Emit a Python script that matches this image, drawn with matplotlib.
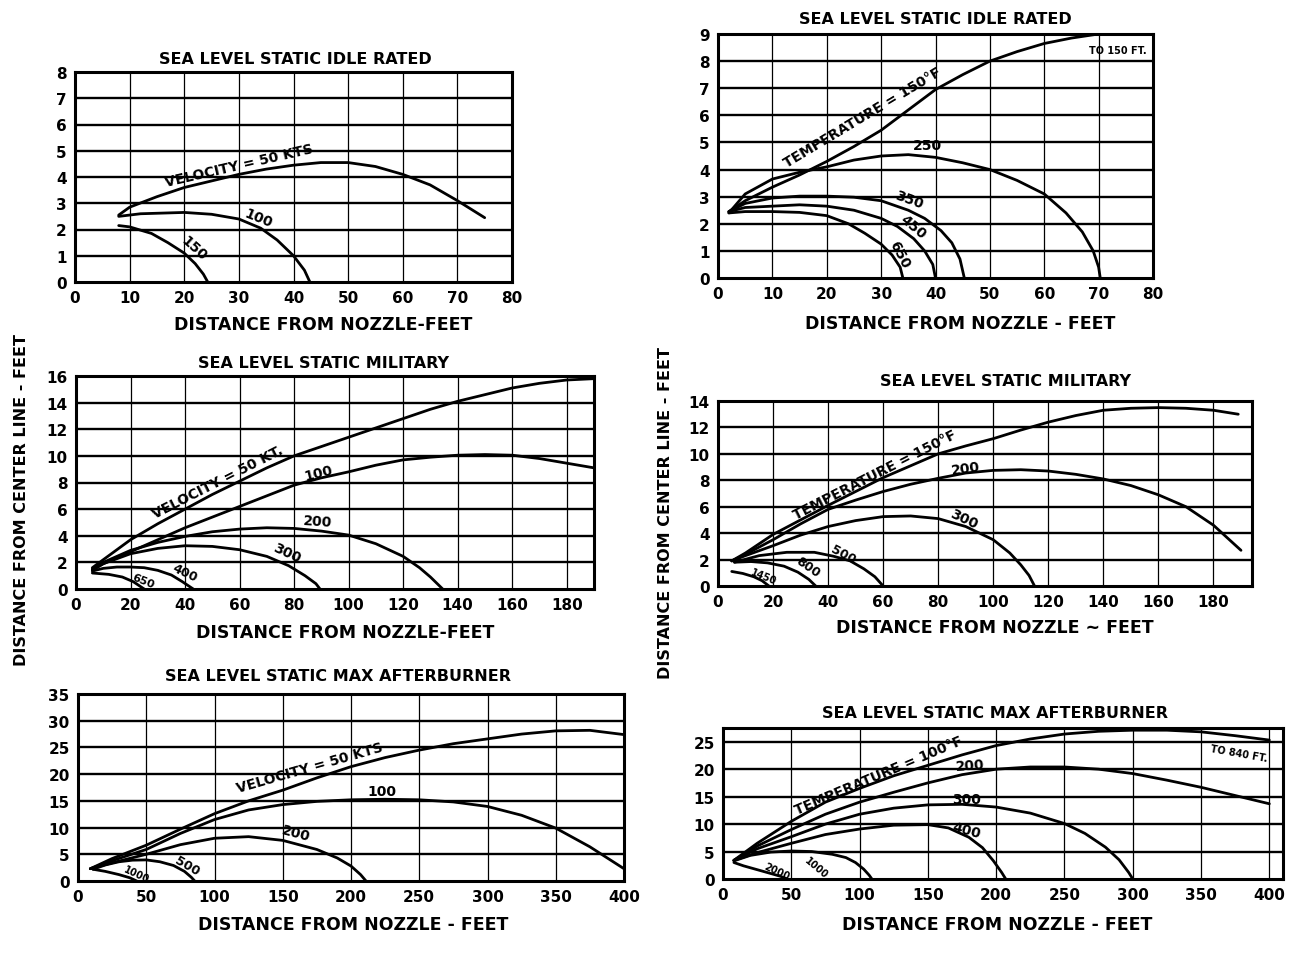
import matplotlib
matplotlib.use('Agg')
import matplotlib.pyplot as plt

plt.rcParams['font.family'] = ['Liberation Sans Narrow', 'DejaVu Sans']
plt.rcParams['font.weight'] = 'bold'

W, H = 1293, 954

#-------------------------------------------------------------------------------
# idle rated - velocity (top left)
idle_v50_x = [8, 10, 15, 20, 25, 30, 35, 40, 45, 50, 55, 60, 65, 70, 75]
idle_v50_y = [2.55, 2.85, 3.25, 3.6, 3.85, 4.1, 4.3, 4.45, 4.55, 4.55, 4.4, 4.1, 3.7, 3.1, 2.45]
idle_v100_x = [8, 12, 20, 25, 30, 34, 37, 40, 42, 43]
idle_v100_y = [2.5, 2.6, 2.65, 2.58, 2.4, 2.05, 1.6, 1.0, 0.45, 0]
idle_v150_x = [8, 10, 14, 17, 20, 22, 23.5, 24.3]
idle_v150_y = [2.15, 2.1, 1.85, 1.5, 1.1, 0.7, 0.3, 0]

# idle rated - temperature (top right)
idle_t150_x = [2, 5, 10, 15, 20, 25, 30, 35, 40, 45, 50, 55, 60, 65, 70]
idle_t150_y = [2.45, 2.85, 3.35, 3.8, 4.3, 4.85, 5.45, 6.2, 6.95, 7.5, 8.0, 8.35, 8.65, 8.85, 9.0]
idle_t250_x = [2, 5, 10, 15, 20, 25, 30, 35, 40, 45, 50, 55, 60, 64, 67, 69, 70, 70.3]
idle_t250_y = [2.4, 3.1, 3.65, 3.9, 4.1, 4.35, 4.5, 4.55, 4.45, 4.25, 4.0, 3.6, 3.1, 2.4, 1.7, 1.0, 0.4, 0]
idle_t350_x = [2, 5, 10, 15, 20, 25, 30, 35, 38, 41, 43, 44.5, 45.3]
idle_t350_y = [2.45, 2.75, 2.95, 3.02, 3.02, 2.98, 2.85, 2.5, 2.2, 1.75, 1.3, 0.7, 0]
idle_t450_x = [2, 5, 10, 15, 20, 25, 30, 33, 36, 38, 39.5, 40]
idle_t450_y = [2.45, 2.6, 2.65, 2.7, 2.65, 2.5, 2.2, 1.9, 1.45, 1.0, 0.5, 0]
idle_t650_x = [2, 5, 10, 15, 20, 24, 27, 30, 32, 33.5, 34]
idle_t650_y = [2.4, 2.45, 2.45, 2.42, 2.3, 2.0, 1.65, 1.25, 0.85, 0.4, 0]

# military - velocity (middle left)
mil_v50_x = [6, 10, 20, 30, 40, 50, 60, 70, 80, 90, 100, 110, 120, 130, 140, 150, 160, 170, 180, 190]
mil_v50_y = [1.6, 2.2, 3.7, 4.9, 6.0, 7.1, 8.1, 9.1, 10.0, 10.7, 11.4, 12.1, 12.8, 13.5, 14.1, 14.6, 15.1, 15.45, 15.7, 15.8]
mil_v100_x = [6, 10, 20, 30, 40, 50, 60, 70, 80, 90, 100, 110, 120, 130, 140, 150, 160, 170, 180, 190]
mil_v100_y = [1.45, 1.9, 2.8, 3.7, 4.6, 5.4, 6.2, 7.0, 7.8, 8.35, 8.8, 9.3, 9.7, 9.9, 10.05, 10.1, 10.05, 9.8, 9.45, 9.1]
mil_v200_x = [6, 10, 20, 30, 40, 50, 60, 70, 80, 90, 100, 110, 120, 126, 130, 133, 134.5]
mil_v200_y = [1.5, 2.0, 2.9, 3.5, 3.95, 4.3, 4.5, 4.6, 4.55, 4.35, 4.05, 3.4, 2.45, 1.6, 0.9, 0.3, 0]
mil_v300_x = [6, 10, 20, 30, 40, 50, 60, 70, 78, 84, 88, 89.5]
mil_v300_y = [1.4, 1.9, 2.65, 3.05, 3.25, 3.2, 2.95, 2.45, 1.75, 1.0, 0.4, 0]
mil_v400_x = [6, 10, 15, 20, 25, 30, 35, 39, 43]
mil_v400_y = [1.35, 1.55, 1.65, 1.65, 1.6, 1.4, 1.05, 0.55, 0]
mil_v650_x = [6, 12, 17, 21, 25]
mil_v650_y = [1.2, 1.1, 0.9, 0.55, 0]

# military - temperature (middle right)
mil_t150_x = [5, 10, 20, 30, 40, 50, 60, 70, 80, 90, 100, 110, 120, 130, 140, 150, 160, 170, 180, 189]
mil_t150_y = [1.9, 2.5, 3.9, 5.0, 6.1, 7.15, 8.2, 9.1, 10.0, 10.6, 11.15, 11.8, 12.4, 12.9, 13.3, 13.45, 13.5, 13.45, 13.3, 13.0]
mil_t200_x = [5, 10, 20, 30, 40, 50, 60, 70, 80, 90, 100, 110, 120, 130, 140, 150, 160, 170, 180, 190]
mil_t200_y = [1.9, 2.4, 3.5, 4.7, 5.8, 6.5, 7.15, 7.7, 8.15, 8.55, 8.75, 8.8, 8.7, 8.45, 8.1, 7.6, 6.9, 6.0, 4.6, 2.7]
mil_t300_x = [5, 10, 20, 30, 40, 50, 60, 70, 80, 90, 100, 106, 110, 113, 115]
mil_t300_y = [1.9, 2.3, 3.05, 3.85, 4.5, 4.95, 5.25, 5.3, 5.1, 4.5, 3.5, 2.5, 1.6, 0.8, 0]
mil_t500_x = [6, 15, 25, 35, 42, 48, 53, 57, 60]
mil_t500_y = [1.8, 2.3, 2.55, 2.55, 2.25, 1.9, 1.3, 0.7, 0]
mil_t800_x = [6, 12, 18, 24, 29, 33, 35.5]
mil_t800_y = [1.8, 1.85, 1.75, 1.5, 1.05, 0.5, 0]
mil_t1450_x = [5, 9, 13, 16, 18.5]
mil_t1450_y = [1.1, 0.95, 0.7, 0.4, 0]

# max afterburner - velocity (bottom left)
ab_v50_x = [9, 25, 50, 75, 100, 125, 150, 175, 200, 225, 250, 275, 300, 325, 350, 375, 400]
ab_v50_y = [2.3, 4.2, 6.7, 9.7, 12.6, 15.0, 17.0, 19.3, 21.4, 23.1, 24.5, 25.7, 26.6, 27.5, 28.1, 28.2, 27.4]
ab_v100_x = [9, 25, 50, 75, 100, 125, 150, 175, 200, 225, 250, 275, 300, 325, 350, 375, 400]
ab_v100_y = [2.3, 3.8, 5.9, 8.9, 11.5, 13.3, 14.3, 14.9, 15.2, 15.3, 15.2, 14.8, 13.95, 12.3, 9.9, 6.4, 2.3]
ab_v200_x = [9, 25, 50, 75, 100, 125, 150, 175, 190, 200, 207, 211]
ab_v200_y = [2.3, 3.4, 5.0, 6.8, 8.0, 8.3, 7.6, 5.9, 4.3, 2.8, 1.2, 0]
ab_v500_x = [11, 20, 30, 40, 50, 60, 70, 78, 83, 85.5]
ab_v500_y = [2.2, 3.0, 3.6, 3.9, 3.95, 3.6, 2.9, 1.8, 0.7, 0]
ab_v1000_x = [11, 20, 30, 38, 43]
ab_v1000_y = [2.2, 1.8, 1.2, 0.6, 0]

# max afterburner - temperature (bottom right)
ab_t100_x = [8, 25, 50, 75, 100, 125, 150, 175, 200, 225, 250, 275, 300, 325, 350, 375, 400]
ab_t100_y = [3.4, 6.5, 10.5, 14.0, 16.5, 18.8, 20.7, 22.6, 24.3, 25.5, 26.4, 26.9, 27.1, 27.1, 26.8, 26.1, 25.3]
ab_t200_x = [8, 25, 50, 75, 100, 125, 150, 175, 200, 225, 250, 275, 300, 325, 350, 375, 400]
ab_t200_y = [3.4, 6.0, 9.0, 11.8, 14.0, 15.8, 17.5, 19.0, 20.0, 20.4, 20.4, 20.0, 19.2, 18.0, 16.7, 15.2, 13.7]
ab_t300_x = [8, 25, 50, 75, 100, 125, 150, 175, 200, 225, 250, 265, 280, 290, 297, 300]
ab_t300_y = [3.4, 5.5, 7.7, 10.0, 11.8, 12.9, 13.5, 13.6, 13.1, 12.0, 10.1, 8.3, 5.8, 3.5, 1.2, 0]
ab_t400_x = [8, 25, 50, 75, 100, 125, 150, 165, 180, 190, 198, 204, 207]
ab_t400_y = [3.4, 4.8, 6.5, 8.1, 9.1, 9.8, 9.9, 9.3, 7.6, 5.7, 3.3, 1.2, 0]
ab_t1000_x = [8, 20, 35, 50, 65, 80, 90, 97, 103, 107, 109]
ab_t1000_y = [3.3, 4.3, 4.9, 5.1, 5.0, 4.5, 3.9, 3.0, 1.8, 0.7, 0]
ab_t2000_x = [8, 15, 25, 35, 42, 47]
ab_t2000_y = [3.0, 2.4, 1.7, 1.0, 0.5, 0]

#-------------------------------------------------------------------------------
def rect(l, t, r, b):
    return [l / W, 1 - b / H, (r - l) / W, (b - t) / H]

def ftext(fig, x, y, s, size=12.5, rot=0):
    fig.text(x / W, 1 - y / H, s, ha='center', va='center', fontsize=size,
             fontweight='bold', rotation=rot)

def set_plot(ax, xlim, ylim, xticks, yticks):
    ax.set_xlim(xlim)
    ax.set_ylim(ylim)
    ax.set_xticks(xticks)
    ax.set_yticks(yticks)
    for y in yticks[1:]:
        ax.axhline(y, color='black', lw=1.7, zorder=1)
    for x in xticks[1:]:
        if x < xlim[1]:
            ax.axvline(x, color='black', lw=0.9, zorder=1)
    for sp in ax.spines.values():
        sp.set_linewidth(2.2)
    ax.tick_params(length=0, pad=6, labelsize=11)
    for lab in ax.get_xticklabels() + ax.get_yticklabels():
        lab.set_fontweight('bold')

def curves(ax, pairs):
    for xs, ys in pairs:
        ax.plot(xs, ys, color='black', lw=2.0, solid_capstyle='round', zorder=3)

def labels(ax, items):
    for x, y, s, ang, size in items:
        ax.text(x, y, s, rotation=ang, ha='center', va='center', fontsize=size,
                fontweight='bold', rotation_mode='anchor', zorder=4)

fig = plt.figure(figsize=(W / 100, H / 100), dpi=100)

# top left
ax = fig.add_axes(rect(75, 73, 512, 283))
set_plot(ax, (0, 80), (0, 8), list(range(0, 81, 10)), list(range(0, 9)))
curves(ax, [(idle_v50_x, idle_v50_y), (idle_v100_x, idle_v100_y), (idle_v150_x, idle_v150_y)])
labels(ax, [(30, 4.45, 'VELOCITY = 50 KTS', 13, 10),
            (33.5, 2.45, '100', -22, 10),
            (21.8, 1.3, '150', -42, 10)])

# top right
ax = fig.add_axes(rect(718, 35, 1153, 279))
set_plot(ax, (0, 80), (0, 9), list(range(0, 81, 10)), list(range(0, 10)))
curves(ax, [(idle_t150_x, idle_t150_y), (idle_t250_x, idle_t250_y), (idle_t350_x, idle_t350_y),
            (idle_t450_x, idle_t450_y), (idle_t650_x, idle_t650_y)])
labels(ax, [(26.5, 5.95, 'TEMPERATURE = 150°F', 31, 10),
            (38.5, 4.9, '250', 0, 10),
            (35.2, 2.9, '350', -20, 10),
            (35.8, 1.9, '450', -40, 10),
            (33.4, 0.9, '650', -62, 10),
            (73.5, 8.4, 'TO 150 FT.', 0, 7)])

# middle left
ax = fig.add_axes(rect(76, 377, 594, 590))
set_plot(ax, (0, 190), (0, 16), list(range(0, 181, 20)), list(range(0, 17, 2)))
curves(ax, [(mil_v50_x, mil_v50_y), (mil_v100_x, mil_v100_y), (mil_v200_x, mil_v200_y),
            (mil_v300_x, mil_v300_y), (mil_v400_x, mil_v400_y), (mil_v650_x, mil_v650_y)])
labels(ax, [(52, 8.1, 'VELOCITY = 50 KT.', 27, 10),
            (89, 8.75, '100', 14, 10),
            (88.5, 5.1, '200', -4, 10),
            (77.5, 2.75, '300', -25, 10),
            (40, 1.25, '400', -25, 9),
            (24.5, 0.62, '650', -22, 8)])

# middle right
ax = fig.add_axes(rect(718, 402, 1252, 587))
set_plot(ax, (0, 194), (0, 14), list(range(0, 181, 20)), list(range(0, 15, 2)))
curves(ax, [(mil_t150_x, mil_t150_y), (mil_t200_x, mil_t200_y), (mil_t300_x, mil_t300_y),
            (mil_t500_x, mil_t500_y), (mil_t800_x, mil_t800_y), (mil_t1450_x, mil_t1450_y)])
labels(ax, [(57, 8.45, 'TEMPERATURE = 150°F', 27, 10),
            (90, 8.9, '200', 8, 10),
            (89.5, 5.1, '300', -25, 10),
            (45.5, 2.45, '500', -28, 9),
            (32.5, 1.45, '800', -35, 9),
            (16.5, 0.75, '1450', -22, 7)])

# bottom left
ax = fig.add_axes(rect(78, 695, 624, 882))
set_plot(ax, (0, 400), (0, 35), list(range(0, 401, 50)), list(range(0, 36, 5)))
curves(ax, [(ab_v50_x, ab_v50_y), (ab_v100_x, ab_v100_y), (ab_v200_x, ab_v200_y),
            (ab_v500_x, ab_v500_y), (ab_v1000_x, ab_v1000_y)])
labels(ax, [(170, 21.2, 'VELOCITY = 50 KTS', 16, 10),
            (223, 16.8, '100', 0, 10),
            (160, 9.0, '200', -15, 10),
            (80, 2.9, '500', -30, 9),
            (43, 1.4, '1000', -25, 7)])

# bottom right
ax = fig.add_axes(rect(723, 729, 1283, 880))
set_plot(ax, (0, 410), (0, 27.5), list(range(0, 401, 50)), list(range(0, 26, 5)))
curves(ax, [(ab_t100_x, ab_t100_y), (ab_t200_x, ab_t200_y), (ab_t300_x, ab_t300_y),
            (ab_t400_x, ab_t400_y), (ab_t1000_x, ab_t1000_y), (ab_t2000_x, ab_t2000_y)])
labels(ax, [(114, 19.0, 'TEMPERATURE = 100°F', 23, 10),
            (181, 20.8, '200', 4, 10),
            (178, 14.6, '300', 0, 10),
            (178, 8.9, '400', -15, 10),
            (68, 2.2, '1000', -40, 7),
            (39, 1.4, '2000', -25, 7),
            (378, 23.0, 'TO 840 FT.', -10, 7)])

# titles
ftext(fig, 295, 60, 'SEA LEVEL STATIC IDLE RATED', size=11.5)
ftext(fig, 935, 20, 'SEA LEVEL STATIC IDLE RATED', size=11.5)
ftext(fig, 323, 364, 'SEA LEVEL STATIC MILITARY', size=11.5)
ftext(fig, 1005, 381, 'SEA LEVEL STATIC MILITARY', size=11.5)
ftext(fig, 338, 677, 'SEA LEVEL STATIC MAX AFTERBURNER', size=11.5)
ftext(fig, 995, 714, 'SEA LEVEL STATIC MAX AFTERBURNER', size=11.5)

# axis labels
ftext(fig, 323, 325, 'DISTANCE FROM NOZZLE-FEET')
ftext(fig, 960, 324, 'DISTANCE FROM NOZZLE - FEET')
ftext(fig, 345, 633, 'DISTANCE FROM NOZZLE-FEET')
ftext(fig, 995, 628, 'DISTANCE FROM NOZZLE ~ FEET')
ftext(fig, 353, 925, 'DISTANCE FROM NOZZLE - FEET')
ftext(fig, 997, 925, 'DISTANCE FROM NOZZLE - FEET')
ftext(fig, 22, 500, 'DISTANCE FROM CENTER LINE - FEET', size=11.5, rot=90)
ftext(fig, 666, 513, 'DISTANCE FROM CENTER LINE - FEET', size=11.5, rot=90)

fig.savefig('out.png', dpi=100)
